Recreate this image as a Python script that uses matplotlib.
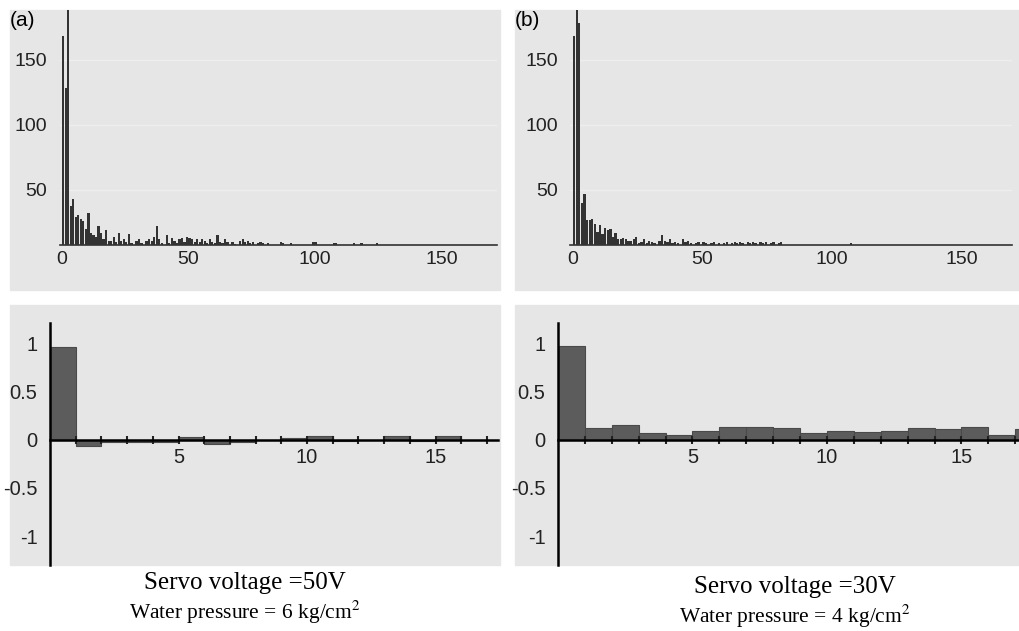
import matplotlib.pyplot as plt
from matplotlib.patches import Rectangle

plt.rcParams['font.family'] = 'Liberation Sans'
plt.rcParams['mathtext.fontset'] = 'stix'

W, H = 1019, 631

# histogram of run lengths (count per integer bin)
a_bins = list(range(0, 82)) + [86, 87, 90, 99, 100, 107, 108, 115, 118, 124]
a_counts = [168, 128, 190, 38, 43, 29, 31, 28, 26, 20,
            32, 17, 15, 14, 22, 17, 12, 19, 11, 11,
            14, 10, 17, 11, 12, 10, 16, 9, 0, 11,
            12, 9, 0, 11, 12, 11, 14, 22, 12, 9,
            0, 15, 9, 13, 11, 9, 12, 13, 10, 14,
            13, 12, 10, 12, 10, 12, 11, 9, 12, 10,
            9, 15, 10, 9, 12, 10, 0, 10, 8.5, 0,
            11, 12, 10, 11, 9, 10, 0, 9, 10, 9,
            0, 9, 10, 9, 9, 10, 10, 9, 9, 9, 9, 9]

b_bins = list(range(0, 81)) + [107]
b_counts = [168, 190, 178, 40, 47, 27, 27, 28, 24, 18,
            23, 16, 21, 19, 20, 14, 17, 12, 12, 13,
            12, 11, 11, 12, 14, 9, 10, 12, 9, 11,
            10, 9, 0, 11, 15, 11, 10, 12, 9, 10,
            9, 0, 12, 10, 11, 9, 0, 9, 10, 0,
            10, 9, 0, 9, 10, 0, 9, 0, 9, 10,
            0, 9, 10, 9, 10, 9, 0, 10, 9, 10,
            9, 0, 10, 9, 10, 0, 9, 10, 0, 9,
            10, 9]

# autocorrelation by lag
lags = list(range(18))
acf_a = [0.96, -0.07, -0.02, -0.025, -0.02, 0.025, -0.05, -0.02, -0.005,
         0.02, 0.035, -0.01, -0.005, 0.035, -0.01, 0.04, -0.005, 0.0]
acf_b = [0.97, 0.12, 0.15, 0.07, 0.045, 0.095, 0.135, 0.135, 0.12,
         0.072, 0.089, 0.078, 0.089, 0.12, 0.106, 0.13, 0.044, 0.11]

captions = [("Servo voltage =50V", "Water pressure = 6 kg/cm$^2$"),
            ("Servo voltage =30V", "Water pressure = 4 kg/cm$^2$")]

fig = plt.figure(figsize=(W / 100, H / 100), dpi=100)


def px_axes(l, t, r, b):
    return fig.add_axes([l / W, 1 - b / H, (r - l) / W, (b - t) / H])


def panel(l, t, r, b):
    fig.add_artist(Rectangle((l / W, 1 - b / H), (r - l) / W, (b - t) / H,
                             transform=fig.transFigure, color='#e6e6e6',
                             zorder=-5))


panel(10, 10, 500, 290)
panel(515, 10, 1019, 290)
panel(10, 305, 500, 565)
panel(515, 305, 1019, 565)

# top: histograms
for (l, r, xmax), bins, counts in [((59.5, 497, 172), a_bins, a_counts),
                                   ((570.4, 1012, 169.5), b_bins, b_counts)]:
    ax = px_axes(l, 10, r, 245)
    ax.set_facecolor('none')
    ax.bar(bins, counts, width=0.88, align='edge', color='#333333', lw=0)
    ax.set_xlim(-1, xmax)
    ax.set_ylim(7.7, 188)
    for s in ['left', 'top', 'right']:
        ax.spines[s].set_visible(False)
    ax.spines['bottom'].set_color('#333333')
    ax.spines['bottom'].set_linewidth(1.2)
    ax.set_xticks([0, 50, 100, 150])
    ax.set_yticks([50, 100, 150])
    ax.tick_params(length=0, labelsize=14, colors='#222222')
    ax.tick_params(axis='x', pad=4)
    ax.tick_params(axis='y', pad=9)
    ax.grid(axis='y', color='#eeeeee', lw=1)
    ax.set_axisbelow(True)

# bottom: autocorrelation
for (l, r, xmax), acf in [((50, 498, 17.43), acf_a), ((558, 1019, 17.14), acf_b)]:
    ax = px_axes(l, 323, r, 565)
    ax.set_facecolor('none')
    ax.bar(lags, acf, width=1, align='edge', color='#5c5c5c',
           edgecolor='#4a4a4a', lw=0.8)
    ax.set_xlim(0, xmax)
    ax.set_ylim(-1.3, 1.21)
    ax.spines['top'].set_visible(False)
    ax.spines['right'].set_visible(False)
    ax.spines['left'].set_position(('data', 0))
    ax.spines['bottom'].set_position(('data', 0))
    for s in ['left', 'bottom']:
        ax.spines[s].set_linewidth(1.8)
        ax.spines[s].set_color('black')
    ticks = list(range(1, 18))
    ax.set_xticks(ticks)
    ax.set_xticklabels([str(t) if t % 5 == 0 else '' for t in ticks])
    ax.set_yticks([-1, -0.5, 0, 0.5, 1])
    ax.set_yticklabels(['-1', '-0.5', '0', '0.5', '1'])
    ax.tick_params(axis='x', direction='inout', length=6, width=1.5,
                   pad=3, labelsize=14.5, colors='#222222')
    ax.tick_params(axis='y', length=0, pad=9, labelsize=14.5, colors='#222222')

fig.text(10 / W, 1 - 20 / H, '(a)', fontsize=15, va='center', ha='left')
fig.text(515 / W, 1 - 20 / H, '(b)', fontsize=15, va='center', ha='left')

for cx, (line1, line2), dy in [(245, captions[0], 0), (795, captions[1], 4)]:
    fig.text(cx / W, 1 - (583 + dy) / H, line1, family='Liberation Serif',
             fontsize=18, ha='center', va='center')
    fig.text(cx / W, 1 - (612 + dy) / H, line2, family='Liberation Serif',
             fontsize=15.5, ha='center', va='center')

fig.savefig('out.png', dpi=100)
